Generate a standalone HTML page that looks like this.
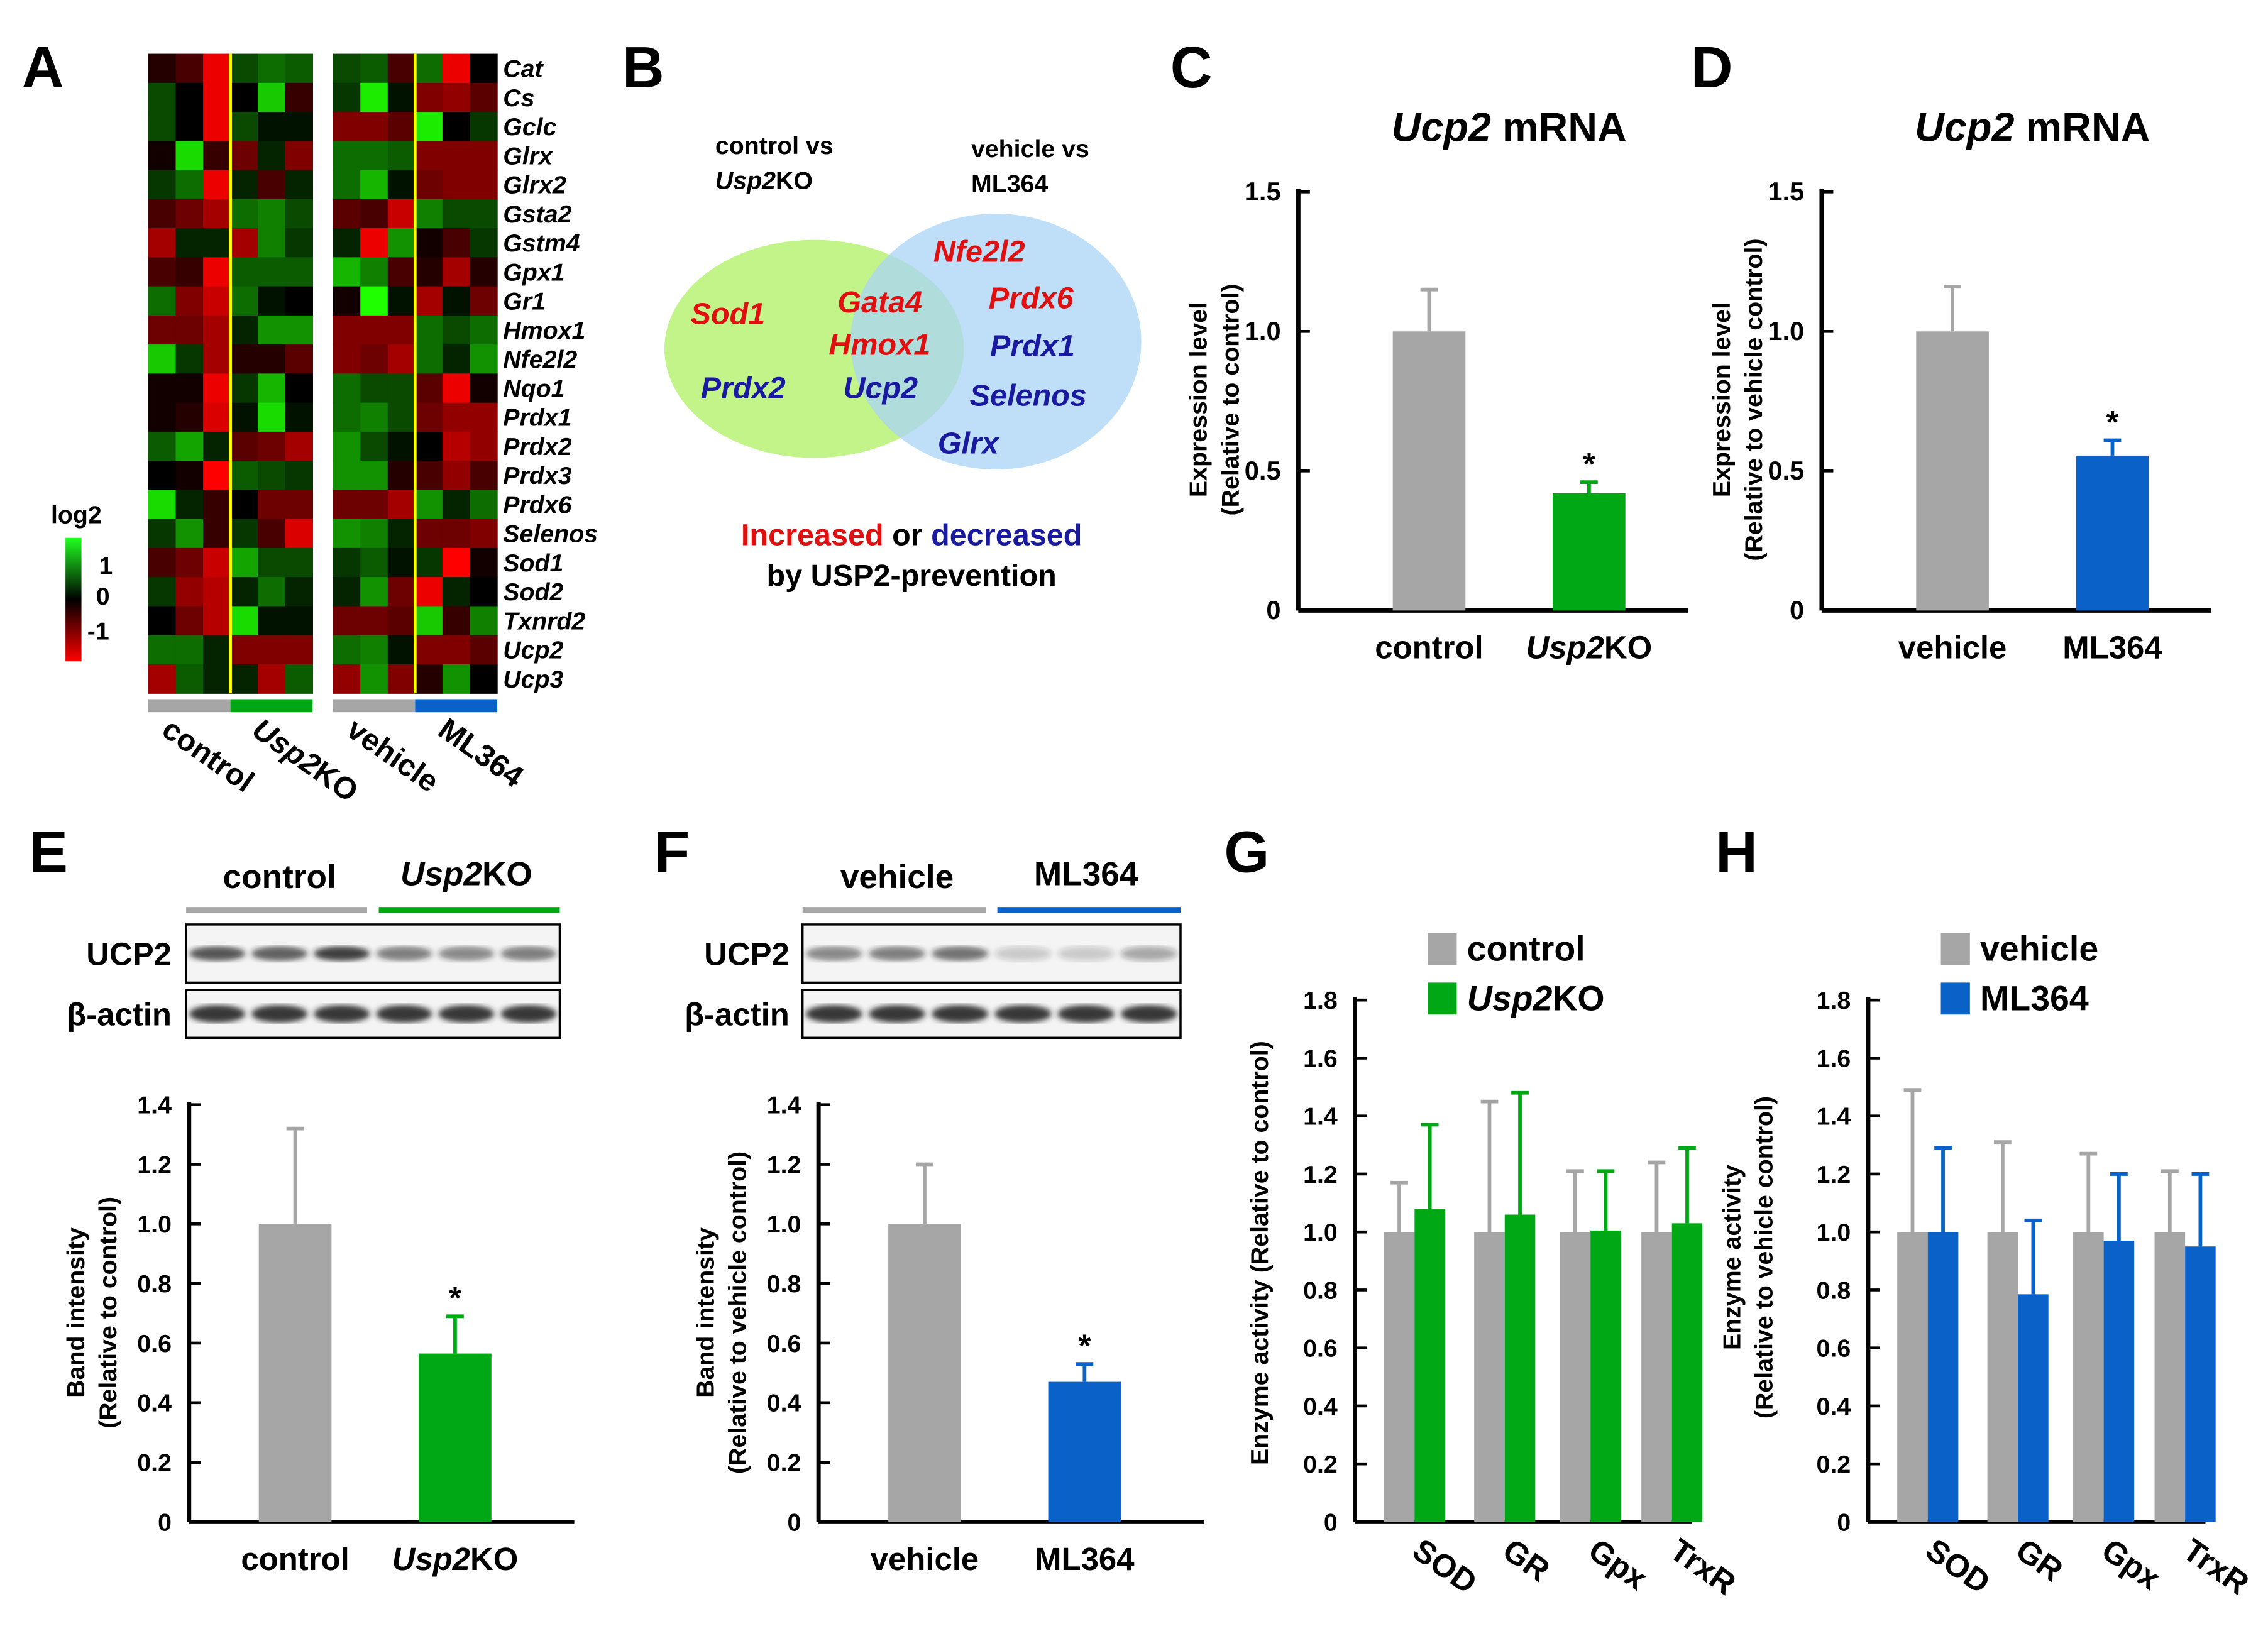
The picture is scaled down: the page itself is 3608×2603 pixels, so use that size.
<!DOCTYPE html>
<html><head><meta charset="utf-8"><style>
html,body{margin:0;padding:0;background:#fff}
svg{display:block}
text{font-family:"Liberation Sans",Arial,sans-serif;font-weight:bold}
</style></head><body>
<svg id="fig" xmlns="http://www.w3.org/2000/svg" width="3608" height="2603" viewBox="0 0 1560 1125.5">
<rect width="1560" height="1125.5" fill="#fff"/>
<g id="root"></g>
</svg>
<script>
// ---------- data ----------
const genes=["Cat","Cs","Gclc","Glrx","Glrx2","Gsta2","Gstm4","Gpx1","Gr1","Hmox1","Nfe2l2","Nqo1","Prdx1","Prdx2","Prdx3","Prdx6","Selenos","Sod1","Sod2","Txnrd2","Ucp2","Ucp3"];
const heatA=[[-0.2,-0.4,-1.3,0.4,0.6,0.5],[0.4,0,-1.3,0,1.1,-0.3],[0.4,0,-1.3,0.4,0.1,0.1],[-0.1,1.2,-0.3,-0.6,0.2,-0.7],[0.3,0.6,-1.3,0.2,-0.4,0.2],[-0.4,-0.6,-0.9,0.6,0.7,0.4],[-0.9,0.2,0.2,-0.9,0.7,0.3],[-0.4,-0.3,-1.3,0.5,0.5,0.5],[0.6,-0.7,-1.1,0.6,0.1,0],[-0.6,-0.6,-0.9,0.2,0.8,0.8],[1.1,0.3,-0.9,-0.2,-0.2,-0.5],[-0.1,-0.1,-1.3,0.3,1.0,0],[-0.1,-0.2,-1.2,0.1,1.2,0.1],[0.5,0.9,0.2,-0.5,-0.6,-0.9],[0,-0.1,-1.4,0.5,0.4,0.3],[1.2,0.2,-0.3,0,-0.6,-0.6],[0.3,0.8,-0.3,0.3,-0.4,-1.2],[-0.4,-0.6,-1.1,0.9,0.4,0.4],[0.3,-0.8,-1.0,0.2,0.6,0.2],[0,-0.6,-1.0,1.2,0.1,0.1],[0.6,0.6,0.2,-0.7,-0.7,-0.7],[-0.9,0.5,0.2,0.2,-0.9,0.5]];
const heatB=[[0.4,0.5,-0.4,0.6,-1.3,0],[0.3,1.3,0.1,-0.7,-0.8,-0.5],[-0.7,-0.7,-0.5,1.3,0,0.3],[0.6,0.6,0.5,-0.7,-0.7,-0.7],[0.6,1.0,0.1,-0.6,-0.7,-0.7],[-0.5,-0.4,-1.1,0.7,0.4,0.4],[0.2,-1.3,0.8,-0.1,-0.4,0.3],[1.0,0.7,-0.4,-0.2,-0.9,-0.2],[-0.1,1.4,0.1,-0.9,0.1,-0.6],[-0.7,-0.7,-0.7,0.6,0.4,0.6],[-0.7,-0.6,-0.9,0.6,0.2,0.8],[0.6,0.4,0.4,-0.5,-1.3,-0.1],[0.6,0.7,0.4,-0.6,-0.8,-0.8],[0.8,0.4,0.1,0,-1.0,-0.8],[0.8,0.8,-0.2,-0.4,-0.8,-0.4],[-0.6,-0.6,-0.9,0.8,0.2,0.6],[0.8,0.7,0.2,-0.6,-0.6,-0.7],[0.3,0.5,0.1,0.3,-1.4,-0.1],[0.2,0.8,-0.6,-1.3,0.2,0],[-0.6,-0.6,-0.5,1.1,-0.3,0.7],[0.6,0.7,0.1,-0.7,-0.7,-0.5],[-0.8,0.8,-0.7,-0.2,0.8,0]];
const cGroups=["control","Usp2KO"]; const cValues=[1.0,0.42]; const cErr=[0.15,0.04];
const dGroups=["vehicle","ML364"]; const dValues=[1.0,0.555]; const dErr=[0.16,0.055];
const mrnaTicks=[0,0.5,1.0,1.5]; const mrnaTickLabels=["0","0.5","1.0","1.5"];
const eValues=[1.0,0.565]; const eErr=[0.32,0.125];
const fValues=[1.0,0.47]; const fErr=[0.2,0.06];
const bandTicks=[0,0.2,0.4,0.6,0.8,1.0,1.2,1.4]; const bandTickLabels=["0","0.2","0.4","0.6","0.8","1.0","1.2","1.4"];
const enzymes=["SOD","GR","Gpx","TrxR"];
const gCtrl=[1.0,1.0,1.0,1.0]; const gCtrlErr=[0.17,0.45,0.21,0.24];
const gKO=[1.08,1.06,1.005,1.03]; const gKOErr=[0.29,0.42,0.205,0.26];
const hVeh=[1.0,1.0,1.0,1.0]; const hVehErr=[0.49,0.31,0.27,0.21];
const hML=[1.0,0.785,0.97,0.95]; const hMLErr=[0.29,0.255,0.23,0.25];
const enzTicks=[0,0.2,0.4,0.6,0.8,1.0,1.2,1.4,1.6,1.8]; const enzTickLabels=["0","0.2","0.4","0.6","0.8","1.0","1.2","1.4","1.6","1.8"];

const GRAY="#a6a6a6", GREEN="#00a816", BLUE="#0a62c8";
const NS="http://www.w3.org/2000/svg";
const root=document.getElementById('root');
function mk(tag,attrs,parent,txt){const e=document.createElementNS(NS,tag);for(const k in attrs)e.setAttribute(k,attrs[k]);if(txt!==undefined)e.textContent=txt;(parent||root).appendChild(e);return e;}
function grp(name){const g=mk('g',{});return g;}

// panel letters
[["A",15,60],["B",428,60],["C",805,60],["D",1163,60],["E",20,600],["F",450,600],["G",842,600],["H",1180,600]].forEach(p=>{
 const t=mk('text',{x:p[1],y:p[2],'font-size':40},root,p[0]);
 
 
});

// ---------- heatmap ----------
function hcol(v){const a=Math.min(1,Math.abs(v)/1.4);const c=Math.round(255*a);return v>=0?`rgb(${Math.round(c*0.12)},${c},0)`:`rgb(${c},0,0)`;}
const hTop=37,rowH=20,cw=(113/6);
function heat(data,x0,name){
 const g=grp(name);
 data.forEach((row,r)=>row.forEach((v,c)=>{
  const e=mk('rect',{x:x0+c*cw,y:hTop+r*rowH,width:cw+0.3,height:rowH+0.3,fill:hcol(v)},g);
  
  
 }));
 const l=mk('line',{x1:x0+3*cw,x2:x0+3*cw,y1:hTop,y2:hTop+22*rowH,stroke:'#ffff00','stroke-width':2},g);
 
 
}
heat(heatA,102,'heatmap-usp2ko');
heat(heatB,229,'heatmap-ml364');
[[102,GRAY],[158.5,GREEN],[229,GRAY],[285.5,BLUE]].forEach(b=>{
 const e=mk('rect',{x:b[0],y:481,width:56.5,height:9,fill:b[1]});
 
 
});
genes.forEach((gn,i)=>{
 const t=mk('text',{x:346,y:hTop+i*rowH+16,'font-size':17,'font-style':'italic'},root,gn);
 
 
});
[["control",110,505],["Usp2KO",172,505],["vehicle",237,505],["ML364",300,505]].forEach(l=>{
 const t=mk('text',{x:l[1],y:l[2],'font-size':21,transform:`rotate(35 ${l[1]} ${l[2]})`},root);
 if(l[0]==='Usp2KO')t.innerHTML='<tspan font-style="italic">Usp2</tspan>KO';else t.textContent=l[0];
 
 
});
// colorbar
const defs=mk('defs',{});
const lg=mk('linearGradient',{id:'cb',x1:0,y1:0,x2:0,y2:1},defs);
mk('stop',{offset:'0','stop-color':'#20ff20'},lg);mk('stop',{offset:'0.5','stop-color':'#000'},lg);mk('stop',{offset:'1','stop-color':'#ff0000'},lg);
const cb=mk('rect',{x:45,y:370,width:11,height:85,fill:'url(#cb)'});

[["log2",35,360],["1",68,395],["0",66,416],["-1",60,440]].forEach(l=>{
 const t=mk('text',{x:l[1],y:l[2],'font-size':17},root,l[0]);
 
});

// ---------- Venn ----------
const vg=grp('venn-diagram');
mk('ellipse',{cx:560,cy:240,rx:103,ry:75,fill:'#c3f48a'},vg);
mk('ellipse',{cx:685,cy:235,rx:100,ry:88,fill:'#a9d4f5','fill-opacity':0.75},vg);
const vt=[["control vs",492,106,"#000","normal",17],["vehicle vs",668,108,"#000","normal",17],["ML364",668,132,"#000","normal",17],
["Nfe2l2",642,180,"#e01010","italic",21],["Sod1",475,223,"#e01010","italic",21],["Gata4",576,215,"#e01010","italic",21],["Prdx6",680,212,"#e01010","italic",21],
["Hmox1",570,244,"#e01010","italic",21],["Prdx1",681,245,"#1a1aa0","italic",21],["Prdx2",482,274,"#1a1aa0","italic",21],["Ucp2",580,274,"#1a1aa0","italic",21],
["Selenos",667,279,"#1a1aa0","italic",21],["Glrx",645,312,"#1a1aa0","italic",21]];
vt.forEach(v=>{const t=mk('text',{x:v[1],y:v[2],fill:v[3],'font-style':v[4],'font-size':v[5]},vg,v[0]);
 });
const vu=mk('text',{x:492,y:130,'font-size':17},vg);
vu.innerHTML='<tspan font-style="italic">Usp2</tspan>KO';

const cap=mk('text',{x:627,y:375,'font-size':21,'text-anchor':'middle'});

cap.innerHTML='<tspan fill="#e01010">Increased</tspan> or <tspan fill="#1a1aa0">decreased</tspan>';
const cap2=mk('text',{x:627,y:403,'font-size':21,'text-anchor':'middle'},root,'by USP2-prevention');


// ---------- bar chart helper ----------
function axes(g,x0,x1,y0,yTop,ticks,labels,max,fs){
 const sy=v=>y0-(y0-yTop)*v/max;
 mk('line',{x1:x0,x2:x0,y1:yTop-2,y2:y0,stroke:'#000','stroke-width':3},g);
 mk('line',{x1:x0,x2:x1,y1:y0,y2:y0,stroke:'#000','stroke-width':3},g);
 ticks.forEach((t,i)=>{
  if(t>0)mk('line',{x1:x0,x2:x0+8,y1:sy(t),y2:sy(t),stroke:'#000','stroke-width':2},g);
  const tl=mk('text',{x:x0-12,y:sy(t)+6,'font-size':fs||17,'text-anchor':'end'},g,labels[i]);
  
 });
 return sy;
}
function bar(g,x,w,v,err,col,sy,name){
 const r=mk('rect',{x:x,y:sy(v),width:w,height:sy(0)-sy(v),fill:col},g);
 
 const cx=x+w/2;
 const e=mk('path',{d:`M${cx},${sy(v)}V${sy(v+err)}M${cx-6},${sy(v+err)}H${cx+6}`,stroke:col,'stroke-width':2.5,fill:'none'},g);
 
}
function ylab(g,x,y,lines,size){
 lines.forEach((l,i)=>{const t=mk('text',{x:x+i*22,y:y,'font-size':size,'text-anchor':'middle',transform:`rotate(-90 ${x+i*22} ${y})`},g,l);
 });
}
function xlab(g,x,y,txt,italicPrefix){
 const t=mk('text',{x:x,y:y,'font-size':22,'text-anchor':'middle'},g);
 
 if(italicPrefix){t.innerHTML='<tspan font-style="italic">Usp2</tspan>KO';}else t.textContent=txt;
}
function star(g,x,y){const t=mk('text',{x:x,y:y,'font-size':22,'font-weight':'normal','text-anchor':'middle'},g,'*');
 }

// C and D
function mrna(name,x0,groups,vals,errs,col,ylines){
 const g=grp(name);
 const t=mk('text',{x:x0+145,y:97,'font-size':28,'text-anchor':'middle'},g);
 t.innerHTML='<tspan font-style="italic">Ucp2</tspan> mRNA';
 
 const sy=axes(g,x0,x0+268,420,132,mrnaTicks,mrnaTickLabels,1.5,18);
 const xs=[x0+65,x0+175];
 vals.forEach((v,i)=>{bar(g,xs[i],50,v,errs[i],i?col:GRAY,sy,'bar-'+groups[i].toLowerCase());
  xlab(g,xs[i]+25,453,groups[i],groups[i]==='Usp2KO');});
 star(g,xs[1]+25,sy(vals[1]+errs[1])-5);
 ylab(g,x0-63,275,ylines,17);
}
mrna('chart-c',893,cGroups,cValues,cErr,GREEN,["Expression level","(Relative to control)"]);
mrna('chart-d',1253,dGroups,dValues,dErr,BLUE,["Expression level","(Relative to vehicle control)"]);

// blots
function blot(name,x0,x1,h1,h2,col2,labR,ucpInt){
 const g=grp(name);
 const mid=(x0+x1)/2;
 const a=mk('text',{x:(x0+mid)/2,y:611,'font-size':23,'text-anchor':'middle'},g);
 a.textContent=h1;
 const b=mk('text',{x:(mid+x1)/2,y:609,'font-size':23,'text-anchor':'middle'},g);
 if(h2==='Usp2KO')b.innerHTML='<tspan font-style="italic">Usp2</tspan>KO';else b.textContent=h2;
 
 mk('rect',{x:x0,y:624,width:mid-x0-4,height:4,fill:GRAY},g);
 mk('rect',{x:mid+4,y:624,width:x1-mid-4,height:4,fill:col2},g);
 [[636,676,'UCP2'],[681,714,'β-actin']].forEach((bx,k)=>{
  const r=mk('rect',{x:x0,y:bx[0],width:x1-x0,height:bx[1]-bx[0],fill:'#f4f4f4',stroke:'#000','stroke-width':1.5},g);
  
  const lw=(x1-x0)/6;
  for(let i=0;i<6;i++){
   const op=k?0.9:ucpInt[i];
   const el=mk('ellipse',{cx:x0+lw*(i+0.5),cy:(bx[0]+bx[1])/2,rx:lw*0.45,ry:k?6:5,fill:'#222','fill-opacity':op,filter:'url(#blur)'},g);
   
  }
  const t=mk('text',{x:labR,y:(bx[0]+bx[1])/2+8,'font-size':22,'text-anchor':'end'},g,bx[2]);
  
 });
}
const flt=mk('filter',{id:'blur'},defs);mk('feGaussianBlur',{stdDeviation:2},flt);
blot('blot-e',128,385,'control','Usp2KO',GREEN,118,[0.75,0.7,0.85,0.55,0.5,0.55]);
blot('blot-f',552,812,'vehicle','ML364',BLUE,543,[0.5,0.55,0.6,0.2,0.2,0.35]);

function band(name,x0,groups,vals,errs,col,ylines){
 const g=grp(name);
 const sy=axes(g,x0,x0+265,1047,760,bandTicks,bandTickLabels,1.4);
 const xs=[x0+48,x0+158];
 vals.forEach((v,i)=>{bar(g,xs[i],50,v,errs[i],i?col:GRAY,sy,'bar-'+groups[i].toLowerCase());
  xlab(g,xs[i]+25,1080,groups[i],groups[i]==='Usp2KO');});
 star(g,xs[1]+25,sy(vals[1]+errs[1])-5);
 ylab(g,x0-72,903,ylines,17);
}
band('chart-e',130,cGroups,eValues,eErr,GREEN,["Band intensity","(Relative to control)"]);
band('chart-f',563,dGroups,fValues,fErr,BLUE,["Band intensity","(Relative to vehicle control)"]);

// G and H
function enz(name,x0,a,ae,b,be,col,legend,ylines){
 const g=grp(name);
 const sy=axes(g,x0,x0+232,1047,688,enzTicks,enzTickLabels,1.8);
 const gap=[20,82,141,197];
 enzymes.forEach((en,i)=>{
  bar(g,x0+gap[i],21,a[i],ae[i],GRAY,sy,'bar-'+legend[0]+'-'+en.toLowerCase());
  bar(g,x0+gap[i]+21,21,b[i],be[i],col,sy,'bar-'+legend[1].toLowerCase()+'-'+en.toLowerCase());
  const lx=x0+gap[i]+18,ly=1070;
  const t=mk('text',{x:lx,y:ly,'font-size':22,transform:`rotate(35 ${lx} ${ly})`},g,en);
  
 });
 [[GRAY,legend[0],642],[col,legend[1],676]].forEach((l,k)=>{
  const r=mk('rect',{x:x0+50,y:l[2],width:20,height:22,fill:l[0]},g);
  
  const t=mk('text',{x:x0+77,y:l[2]+19,'font-size':24},g);
  if(l[1]==='Usp2KO')t.innerHTML='<tspan font-style="italic">Usp2</tspan>KO';else t.textContent=l[1];
  
 });
 ylab(g,ylines.length>1?x0-88:x0-60,ylines.length>1?865:862,ylines,17);
}
enz('chart-g',932,gCtrl,gCtrlErr,gKO,gKOErr,GREEN,['control','Usp2KO'],["Enzyme activity (Relative to control)"]);
enz('chart-h',1285,hVeh,hVehErr,hML,hMLErr,BLUE,['vehicle','ML364'],["Enzyme activity","(Relative to  vehicle control)"]);
</script>
</body></html>
